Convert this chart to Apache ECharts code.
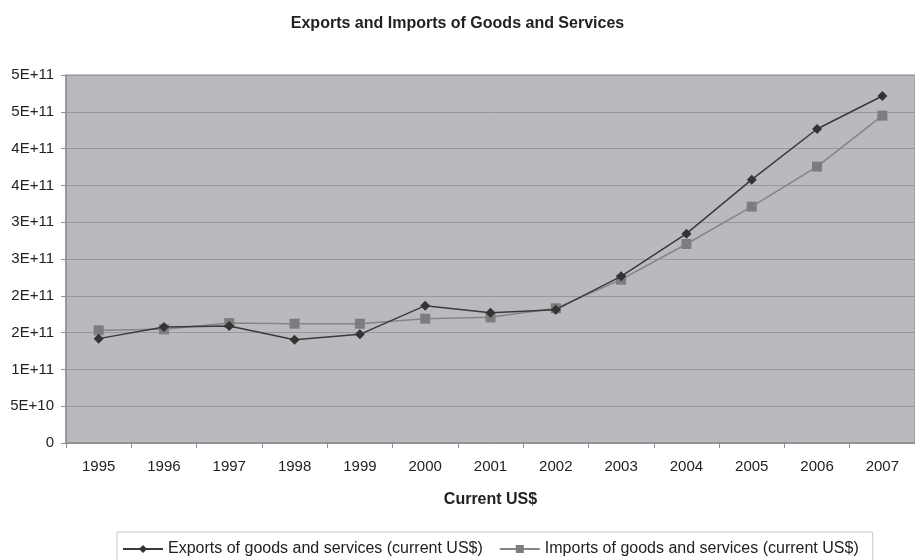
<!DOCTYPE html>
<html>
<head>
<meta charset="utf-8">
<style>
  html, body { margin: 0; padding: 0; background: #fff; }
  #chart { width: 915px; height: 560px; }
</style>
<script src="https://cdn.jsdelivr.net/npm/echarts@6/dist/echarts.min.js"></script>
</head>
<body>
<div id="chart"></div>
<script>
const years = ['1995','1996','1997','1998','1999','2000','2001','2002','2003','2004','2005','2006','2007'];
const exportsUSD = [1.418e11, 1.576e11, 1.59e11, 1.404e11, 1.476e11, 1.866e11, 1.771e11, 1.812e11, 2.264e11, 2.844e11, 3.578e11, 4.266e11, 4.715e11];
const importsUSD = [1.531e11, 1.544e11, 1.63e11, 1.621e11, 1.621e11, 1.689e11, 1.707e11, 1.83e11, 2.219e11, 2.704e11, 3.211e11, 3.755e11, 4.447e11];

// Scientific tick labels with a single significant digit, rounding half up
function sci(v) {
  if (v === 0) return '0';
  let e = Math.floor(Math.log10(v) + 1e-9);
  let m = Math.round(v / Math.pow(10, e) + 1e-9);
  if (m >= 10) { m = 1; e += 1; }
  return m + 'E+' + e;
}

const chart = echarts.init(document.getElementById('chart'));
chart.setOption({
  animation: false,
  backgroundColor: '#ffffff',
  textStyle: { fontFamily: 'Arial, "Liberation Sans", sans-serif' },
  title: {
    text: 'Exports and Imports of Goods and Services',
    left: 'center',
    top: 11,
    textStyle: { fontSize: 16, fontWeight: 'bold', color: '#222' }
  },
  grid: {
    left: 66, right: 0, top: 75, bottom: 117,
    show: true,
    backgroundColor: '#b9babe',
    borderColor: '#8e8f93',
    borderWidth: 1
  },
  legend: {
    left: 117,
    top: 532,
    itemWidth: 40,
    itemHeight: 10,
    itemGap: 16,
    padding: [9, 14, 20, 5],
    borderColor: '#c8c8c8',
    borderWidth: 1,
    textStyle: { fontSize: 16, color: '#222' }
  },
  xAxis: {
    type: 'category',
    data: years,
    boundaryGap: true,
    name: 'Current US$',
    nameLocation: 'middle',
    nameGap: 49,
    nameTextStyle: { fontSize: 16, fontWeight: 'bold', color: '#222' },
    axisLine: { lineStyle: { color: '#8e8f93', width: 1.5 } },
    axisTick: { show: true, length: 5, alignWithLabel: false, lineStyle: { color: '#8e8f93' } },
    axisLabel: { fontSize: 15, color: '#222', margin: 16 }
  },
  yAxis: {
    type: 'value',
    min: 0,
    max: 5e11,
    interval: 5e10,
    axisLine: { show: true, lineStyle: { color: '#8e8f93', width: 1.5 } },
    axisTick: { show: true, length: 5, lineStyle: { color: '#8e8f93' } },
    axisLabel: { fontSize: 15, color: '#222', margin: 12, formatter: sci },
    splitLine: { lineStyle: { color: '#98999d', width: 1 } }
  },
  series: [
    {
      name: 'Exports of goods and services (current US$)',
      type: 'line',
      data: exportsUSD,
      symbol: 'diamond',
      symbolSize: 10,
      itemStyle: { color: '#333333' },
      lineStyle: { color: '#3a3a3a', width: 1.5 },
      z: 3
    },
    {
      name: 'Imports of goods and services (current US$)',
      type: 'line',
      data: importsUSD,
      symbol: 'rect',
      symbolSize: 10,
      itemStyle: { color: '#7d7d80' },
      lineStyle: { color: '#858588', width: 1.5 },
      z: 2
    }
  ]
});
</script>
</body>
</html>
